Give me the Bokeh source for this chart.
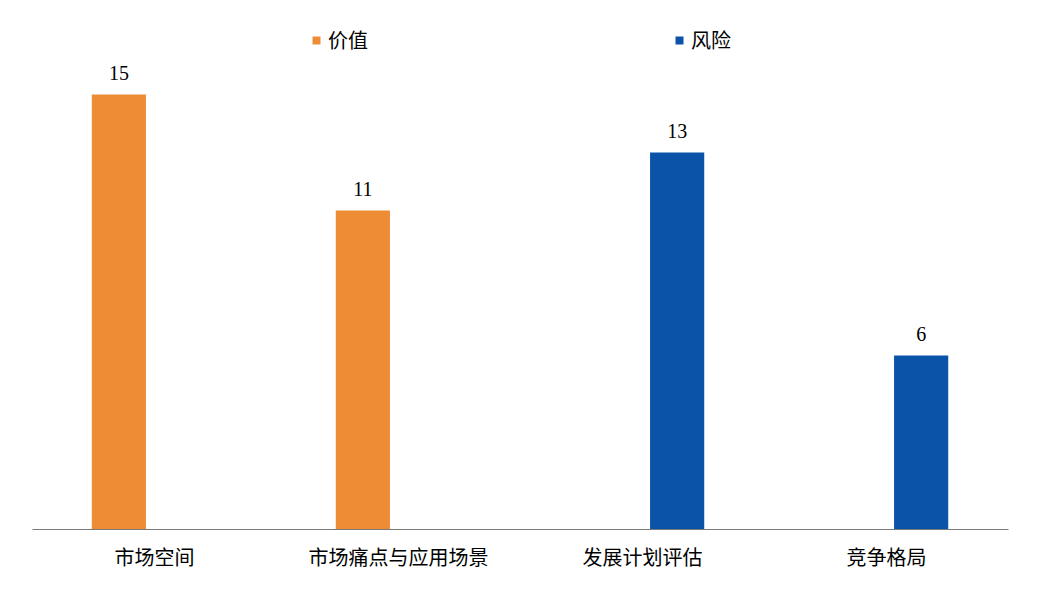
from bokeh.plotting import figure
from bokeh.models import ColumnDataSource, FactorRange, Range1d, LabelSet, Legend, LegendItem
from bokeh.transform import dodge
from bokeh.embed import file_html
from bokeh.resources import INLINE

categories = ["市场空间", "市场痛点与应用场景", "发展计划评估", "竞争格局"]
series_names = ["价值", "风险"]
value_vals = [15, 11, 0, 0]
risk_vals = [0, 0, 13, 6]
colors = ["#EE8C35", "#0B52A9"]

src = ColumnDataSource(dict(cat=categories, v=value_vals, r=risk_vals))

p = figure(x_range=FactorRange(*categories, range_padding=0), y_range=Range1d(0, 17.62),
           width=1021, height=592, output_backend="svg", toolbar_location=None,
           min_border_left=32, min_border_right=13, min_border_top=18, min_border_bottom=63)
p.outline_line_color = None
p.xgrid.grid_line_color = None
p.ygrid.grid_line_color = None
p.yaxis.visible = False

OFF_V, OFF_R = -0.146, 0.142

r1 = p.vbar(x=dodge("cat", OFF_V, range=p.x_range), top="v", width=0.222, source=src,
            fill_color=colors[0], line_color=None)
r2 = p.vbar(x=dodge("cat", OFF_R, range=p.x_range), top="r", width=0.222, source=src,
            fill_color=colors[1], line_color=None)

# labels (only non-zero)
lab_v = ColumnDataSource(dict(cat=[c for c, v in zip(categories, value_vals) if v],
                              y=[v for v in value_vals if v],
                              t=[str(v) for v in value_vals if v]))
lab_r = ColumnDataSource(dict(cat=[c for c, v in zip(categories, risk_vals) if v],
                              y=[v for v in risk_vals if v],
                              t=[str(v) for v in risk_vals if v]))
for s, off in ((lab_v, OFF_V), (lab_r, OFF_R)):
    p.add_layout(LabelSet(x=dodge("cat", off, range=p.x_range), y="y", text="t", source=s,
                          text_align="center", text_baseline="alphabetic", y_offset=14,
                          text_font="Liberation Serif", text_font_size="20px", text_color="#000000"))

ax = p.xaxis[0]
ax.axis_line_color = "#7a7a7a"
ax.axis_line_width = 1
ax.major_tick_line_color = None
ax.minor_tick_line_color = None
ax.major_label_text_font = "Noto Sans CJK SC"
ax.major_label_text_font_size = "20px"
ax.major_label_text_color = "#000000"
ax.major_label_standoff = 6

for rend, name, x in ((r1, series_names[0], 279), (r2, series_names[1], 642)):
    lg = Legend(items=[LegendItem(label=name, renderers=[rend])], location=(x, 475),
                orientation="horizontal", glyph_width=10, glyph_height=10, label_standoff=7,
                padding=0, margin=0, border_line_color=None, background_fill_alpha=0,
                label_text_font="Noto Sans CJK SC", label_text_font_size="20px",
                label_text_color="#000000")
    p.add_layout(lg)

open("out.html", "w").write(file_html(p, INLINE))
